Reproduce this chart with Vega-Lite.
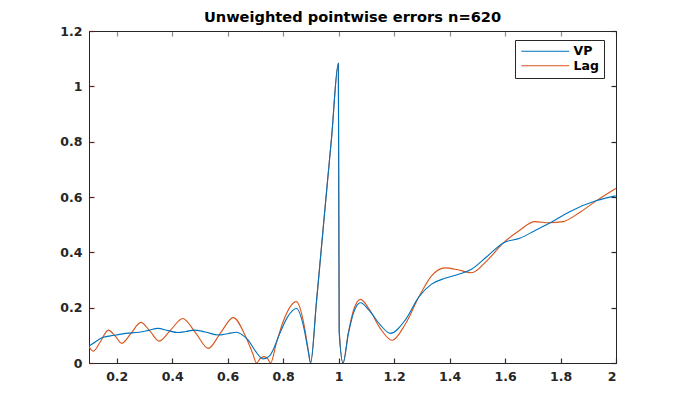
{
  "$schema": "https://vega.github.io/schema/vega-lite/v6.json",
  "autosize": "none",
  "width": 527,
  "height": 332,
  "padding": {"left": 89, "top": 31, "right": 65, "bottom": 46},
  "background": "white",
  "title": {"text": "Unweighted pointwise errors n=620", "fontSize": 14.6, "fontWeight": "bold", "font": "DejaVu Sans", "color": "#000000", "offset": 0, "anchor": "middle"},
  "config": {
    "view": {"stroke": "#262626", "strokeWidth": 1},
    "axis": {"grid": false, "labelFont": "DejaVu Sans", "labelFontWeight": "bold", "labelFontSize": 12.5, "labelColor": "#262626", "title": null, "format": "~g"}
  },
  "data": {"values": [
    {"x": 0.100, "y": 0.059, "s": "Lag"},
    {"x": 0.1155, "y": 0.043, "s": "Lag"},
    {"x": 0.14, "y": 0.075, "s": "Lag"},
    {"x": 0.1695, "y": 0.119, "s": "Lag"},
    {"x": 0.195, "y": 0.097, "s": "Lag"},
    {"x": 0.218, "y": 0.071, "s": "Lag"},
    {"x": 0.25, "y": 0.105, "s": "Lag"},
    {"x": 0.287, "y": 0.147, "s": "Lag"},
    {"x": 0.32, "y": 0.115, "s": "Lag"},
    {"x": 0.353, "y": 0.079, "s": "Lag"},
    {"x": 0.395, "y": 0.12, "s": "Lag"},
    {"x": 0.438, "y": 0.161, "s": "Lag"},
    {"x": 0.485, "y": 0.108, "s": "Lag"},
    {"x": 0.530, "y": 0.053, "s": "Lag"},
    {"x": 0.575, "y": 0.11, "s": "Lag"},
    {"x": 0.620, "y": 0.164, "s": "Lag"},
    {"x": 0.665, "y": 0.095, "s": "Lag"},
    {"x": 0.690, "y": 0.035, "s": "Lag"},
    {"x": 0.704, "y": 0.0, "s": "Lag"},
    {"x": 0.718, "y": 0.017, "s": "Lag"},
    {"x": 0.731, "y": 0.023, "s": "Lag"},
    {"x": 0.744, "y": 0.016, "s": "Lag"},
    {"x": 0.755, "y": 0.0, "s": "Lag"},
    {"x": 0.775, "y": 0.07, "s": "Lag"},
    {"x": 0.80, "y": 0.15, "s": "Lag"},
    {"x": 0.848, "y": 0.222, "s": "Lag"},
    {"x": 0.875, "y": 0.14, "s": "Lag"},
    {"x": 0.890, "y": 0.05, "s": "Lag"},
    {"x": 0.899, "y": 0.0, "s": "Lag"},
    {"x": 0.92, "y": 0.22, "s": "Lag"},
    {"x": 0.95, "y": 0.55, "s": "Lag"},
    {"x": 0.975, "y": 0.82, "s": "Lag"},
    {"x": 0.999, "y": 1.083, "s": "Lag"},
    {"x": 1.002, "y": 0.12, "s": "Lag"},
    {"x": 1.016, "y": 0.0, "s": "Lag"},
    {"x": 1.035, "y": 0.11, "s": "Lag"},
    {"x": 1.055, "y": 0.195, "s": "Lag"},
    {"x": 1.079, "y": 0.230, "s": "Lag"},
    {"x": 1.11, "y": 0.195, "s": "Lag"},
    {"x": 1.15, "y": 0.125, "s": "Lag"},
    {"x": 1.193, "y": 0.082, "s": "Lag"},
    {"x": 1.24, "y": 0.14, "s": "Lag"},
    {"x": 1.290, "y": 0.240, "s": "Lag"},
    {"x": 1.335, "y": 0.315, "s": "Lag"},
    {"x": 1.383, "y": 0.344, "s": "Lag"},
    {"x": 1.43, "y": 0.337, "s": "Lag"},
    {"x": 1.479, "y": 0.326, "s": "Lag"},
    {"x": 1.535, "y": 0.37, "s": "Lag"},
    {"x": 1.595, "y": 0.435, "s": "Lag"},
    {"x": 1.653, "y": 0.48, "s": "Lag"},
    {"x": 1.707, "y": 0.511, "s": "Lag"},
    {"x": 1.759, "y": 0.507, "s": "Lag"},
    {"x": 1.809, "y": 0.511, "s": "Lag"},
    {"x": 1.87, "y": 0.545, "s": "Lag"},
    {"x": 1.930, "y": 0.587, "s": "Lag"},
    {"x": 1.999, "y": 0.631, "s": "Lag"},
    {"x": 0.100, "y": 0.061, "s": "VP"},
    {"x": 0.125, "y": 0.078, "s": "VP"},
    {"x": 0.149, "y": 0.092, "s": "VP"},
    {"x": 0.19, "y": 0.100, "s": "VP"},
    {"x": 0.233, "y": 0.107, "s": "VP"},
    {"x": 0.281, "y": 0.111, "s": "VP"},
    {"x": 0.315, "y": 0.118, "s": "VP"},
    {"x": 0.348, "y": 0.125, "s": "VP"},
    {"x": 0.385, "y": 0.117, "s": "VP"},
    {"x": 0.420, "y": 0.110, "s": "VP"},
    {"x": 0.45, "y": 0.114, "s": "VP"},
    {"x": 0.479, "y": 0.119, "s": "VP"},
    {"x": 0.52, "y": 0.112, "s": "VP"},
    {"x": 0.566, "y": 0.101, "s": "VP"},
    {"x": 0.60, "y": 0.106, "s": "VP"},
    {"x": 0.632, "y": 0.111, "s": "VP"},
    {"x": 0.655, "y": 0.100, "s": "VP"},
    {"x": 0.674, "y": 0.083, "s": "VP"},
    {"x": 0.70, "y": 0.043, "s": "VP"},
    {"x": 0.728, "y": 0.015, "s": "VP"},
    {"x": 0.75, "y": 0.025, "s": "VP"},
    {"x": 0.765, "y": 0.05, "s": "VP"},
    {"x": 0.788, "y": 0.107, "s": "VP"},
    {"x": 0.815, "y": 0.165, "s": "VP"},
    {"x": 0.848, "y": 0.197, "s": "VP"},
    {"x": 0.875, "y": 0.125, "s": "VP"},
    {"x": 0.890, "y": 0.045, "s": "VP"},
    {"x": 0.899, "y": 0.0, "s": "VP"},
    {"x": 0.92, "y": 0.22, "s": "VP"},
    {"x": 0.95, "y": 0.55, "s": "VP"},
    {"x": 0.975, "y": 0.82, "s": "VP"},
    {"x": 0.999, "y": 1.083, "s": "VP"},
    {"x": 1.002, "y": 0.11, "s": "VP"},
    {"x": 1.016, "y": 0.0, "s": "VP"},
    {"x": 1.035, "y": 0.105, "s": "VP"},
    {"x": 1.055, "y": 0.185, "s": "VP"},
    {"x": 1.079, "y": 0.218, "s": "VP"},
    {"x": 1.11, "y": 0.19, "s": "VP"},
    {"x": 1.15, "y": 0.138, "s": "VP"},
    {"x": 1.187, "y": 0.107, "s": "VP"},
    {"x": 1.24, "y": 0.155, "s": "VP"},
    {"x": 1.290, "y": 0.240, "s": "VP"},
    {"x": 1.335, "y": 0.285, "s": "VP"},
    {"x": 1.383, "y": 0.306, "s": "VP"},
    {"x": 1.43, "y": 0.32, "s": "VP"},
    {"x": 1.479, "y": 0.339, "s": "VP"},
    {"x": 1.535, "y": 0.385, "s": "VP"},
    {"x": 1.595, "y": 0.435, "s": "VP"},
    {"x": 1.653, "y": 0.451, "s": "VP"},
    {"x": 1.707, "y": 0.478, "s": "VP"},
    {"x": 1.759, "y": 0.505, "s": "VP"},
    {"x": 1.833, "y": 0.547, "s": "VP"},
    {"x": 1.930, "y": 0.587, "s": "VP"},
    {"x": 1.999, "y": 0.604, "s": "VP"}
  ]},
  "layer": [
    {
      "mark": {"type": "line", "strokeWidth": 1.1, "interpolate": "monotone", "clip": true},
      "encoding": {
        "x": {"field": "x", "type": "quantitative", "scale": {"domain": [0.1, 2], "nice": false, "zero": false},
              "axis": {"orient": "bottom", "values": [0.2, 0.4, 0.6, 0.8, 1, 1.2, 1.4, 1.6, 1.8, 2], "tickSize": -5, "tickColor": "#303040", "tickWidth": 1.2, "domainColor": "#262626", "labelPadding": 12}},
        "y": {"field": "y", "type": "quantitative", "scale": {"domain": [0, 1.2], "nice": false},
              "axis": {"orient": "left", "values": [0, 0.2, 0.4, 0.6, 0.8, 1, 1.2], "tickSize": -5, "tickColor": "#5a2020", "tickWidth": 1.2, "domainColor": "#262626", "labelPadding": 12}},
        "color": {"field": "s", "type": "nominal",
                  "scale": {"domain": ["VP", "Lag"], "range": ["#0072BD", "#D95319"]},
                  "legend": {"orient": "none", "legendX": 426, "legendY": 9, "title": null,
                             "symbolType": "M-1,0H8.6", "symbolSize": 100, "symbolStrokeWidth": 1.1,
                             "labelFont": "DejaVu Sans", "labelFontWeight": "bold", "labelFontSize": 12.5, "labelColor": "#000000",
                             "strokeColor": "#262626", "fillColor": "white", "padding": 5, "rowPadding": 1.5, "labelOffset": 41}}
      }
    },
    {
      "mark": {"type": "line", "opacity": 0},
      "encoding": {
        "x": {"field": "x", "type": "quantitative",
              "axis": {"orient": "top", "values": [0.2, 0.4, 0.6, 0.8, 1, 1.2, 1.4, 1.6, 1.8, 2], "labels": false, "tickSize": -5, "tickColor": "#8a8a8a", "tickWidth": 1.2, "domainColor": "#262626"}},
        "y": {"field": "y", "type": "quantitative",
              "axis": {"orient": "right", "values": [0, 0.2, 0.4, 0.6, 0.8, 1, 1.2], "labels": false, "tickSize": -5, "tickColor": "#262626", "tickWidth": 1.2, "tickOpacity": 0.99, "domainColor": "#262626"}},
        "detail": {"field": "s"}
      }
    }
  ],
  "resolve": {"axis": {"x": "independent", "y": "independent"}}
}
